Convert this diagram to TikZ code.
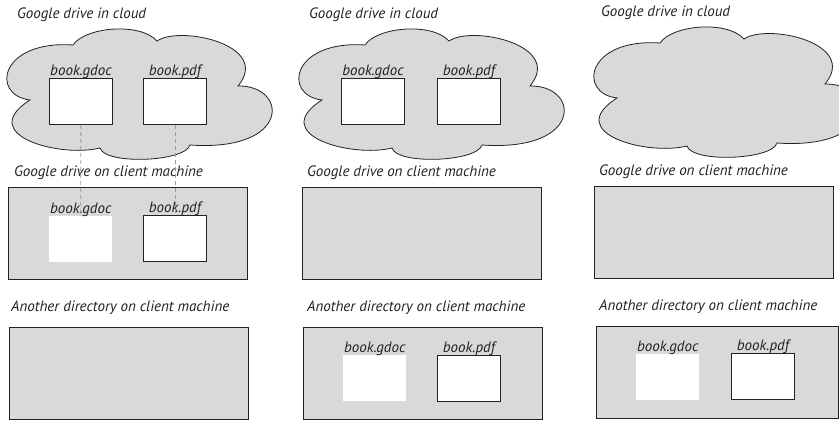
\documentclass[tikz,border=0pt]{standalone}
\usepackage{fontspec}
\setmainfont{PT Sans}
\definecolor{txt}{HTML}{231F20}
\definecolor{bordc}{HTML}{222222}
\definecolor{fillc}{HTML}{D9D9D9}
\definecolor{dashc}{HTML}{9A9A9A}
\tikzset{
  lbl/.style={font=\fontsize{15bp}{17bp}\selectfont\itshape, text=txt, inner sep=0pt},
  titletext/.style={lbl, anchor=west},
  fname/.style={lbl, anchor=base},
  filebox/.style={draw=bordc, line width=0.8bp, fill=white, minimum width=63bp, minimum height=46bp, inner sep=0pt, anchor=north west},
  ghostbox/.style={fill=white, minimum width=63bp, minimum height=46bp, inner sep=0pt, anchor=north west},
  area/.style={draw=bordc, line width=0.8bp, fill=fillc},
  areabox/.style={area, minimum width=239bp, minimum height=92bp, inner sep=0pt, anchor=north west},
  link/.style={draw=dashc, line width=0.8bp, dash pattern=on 4bp off 3bp},
  cloudpic/.pic={
    \draw[area] (30,100) .. controls (-10,95) and (0,40) .. (73,45)
      .. controls (85,27) and (140,22) .. (157,41)
      .. controls (180,25) and (272,45) .. (238,86)
      .. controls (288,85) and (292,152) .. (190,145)
      .. controls (185,162) and (105,165) .. (100,148)
      .. controls (60,158) and (-25,135) .. (30,100) -- cycle;
  }
}
\begin{document}
\begin{tikzpicture}[x=1bp,y=-1bp]
\useasboundingbox (0,0) rectangle (839,420);

% ---------- left panel ----------
\node[titletext] (t1a) at (17,15) {Google drive in cloud};
\pic at (0,0) {cloudpic};
\node[filebox] (c1g) at (49,78) {};
\node[filebox] (c1p) at (143,78) {};
\node[fname] (c1gl) at ([yshift=3bp]c1g.north) {book.gdoc};
\node[fname] (c1pl) at ([yshift=3bp]c1p.north) {book.pdf};

\node[titletext] (t1b) at (14,173) {Google drive on client machine};
\node[areabox] (a1b) at (8,187) {};
\node[ghostbox] (d1g) at (49,216) {};
\node[filebox] (d1p) at (143,215) {};
\node[fname] (d1gl) at ([yshift=3bp]d1g.north) {book.gdoc};
\node[fname] (d1pl) at ([yshift=3bp]d1p.north) {book.pdf};

\node[titletext] (t1c) at (11,308) {Another directory on client machine};
\node[areabox] (a1c) at (9,327) {};

\draw[link] (c1g.south) -- (d1g.north);
\draw[link] (c1p.south) -- (d1p.north);

% ---------- middle panel ----------
\node[titletext] (t2a) at (309,15) {Google drive in cloud};
\pic at (292,0) {cloudpic};
\node[filebox] (c2g) at (341,78) {};
\node[filebox] (c2p) at (437,78) {};
\node[fname] (c2gl) at ([yshift=3bp]c2g.north) {book.gdoc};
\node[fname] (c2pl) at ([yshift=3bp]c2p.north) {book.pdf};

\node[titletext] (t2b) at (307,173) {Google drive on client machine};
\node[areabox] (a2b) at (302,187) {};

\node[titletext] (t2c) at (307,308) {Another directory on client machine};
\node[areabox] (a2c) at (303,327) {};
\node[ghostbox] (e2g) at (343,355) {};
\node[filebox] (e2p) at (437,355) {};
\node[fname] (e2gl) at ([yshift=3bp]e2g.north) {book.gdoc};
\node[fname] (e2pl) at ([yshift=3bp]e2p.north) {book.pdf};

% ---------- right panel ----------
\node[titletext] (t3a) at (601,13) {Google drive in cloud};
\pic at (587,-2) {cloudpic};

\node[titletext] (t3b) at (599,172) {Google drive on client machine};
\node[areabox] (a3b) at (594,186) {};

\node[titletext] (t3c) at (599,307) {Another directory on client machine};
\node[areabox, minimum width=242bp] (a3c) at (596,326) {};
\node[ghostbox] (e3g) at (636,354) {};
\node[filebox] (e3p) at (731,353) {};
\node[fname] (e3gl) at ([yshift=3bp]e3g.north) {book.gdoc};
\node[fname] (e3pl) at ([yshift=3bp]e3p.north) {book.pdf};
\end{tikzpicture}
\end{document}
